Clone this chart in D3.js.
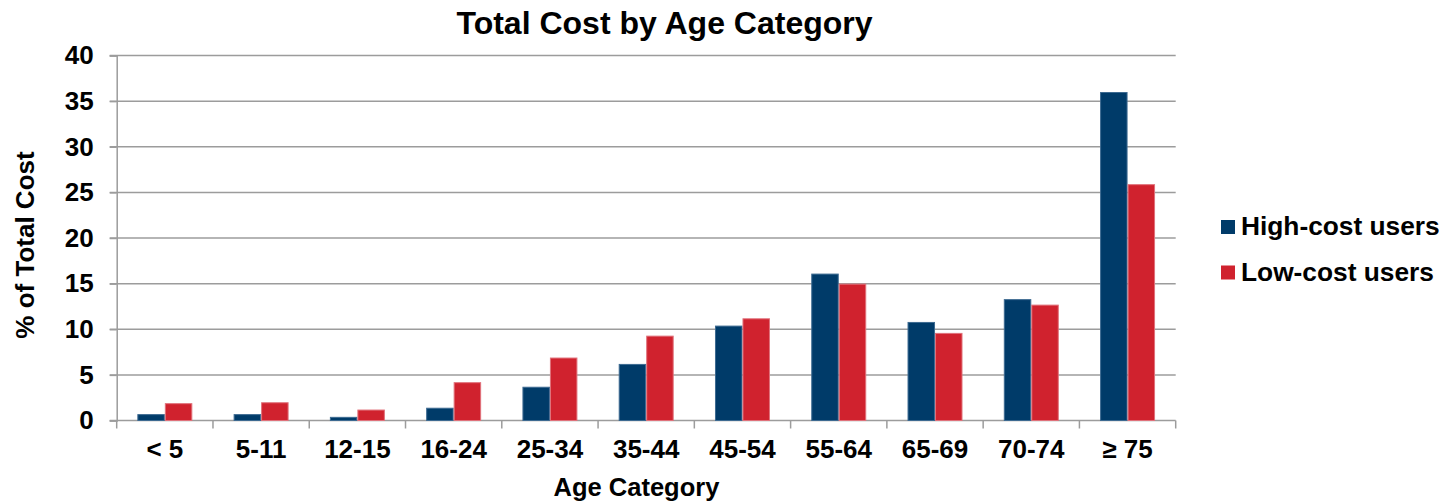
<!DOCTYPE html>
<html>
<head>
<meta charset="utf-8">
<script src="https://cdn.jsdelivr.net/npm/d3@7"></script>
<style>
  html, body { margin: 0; padding: 0; background: #fff; }
  svg { display: block; font-family: "Liberation Sans", Arial, sans-serif; font-weight: bold; }
</style>
</head>
<body>
<svg id="chart" width="1445" height="503"></svg>
<script>
// Age groups along the x axis
const categories = ["< 5", "5-11", "12-15", "16-24", "25-34", "35-44", "45-54", "55-64", "65-69", "70-74", "\u2265 75"];
// Share of total cost (%) per age group
const highCost = [0.7, 0.7, 0.4, 1.4, 3.7, 6.2, 10.4, 16.1, 10.8, 13.3, 36.0];
const lowCost  = [1.9, 2.0, 1.2, 4.2, 6.9, 9.3, 11.2, 15.0, 9.6, 12.7, 25.9];
const seriesNames = ["High-cost users", "Low-cost users"];
const seriesColors = ["#003B69", "#D0222E"];
const seriesEdges = ["#3d6a91", "#e0717a"];
const yTicks = [0, 5, 10, 15, 20, 25, 30, 35, 40];

const svg = d3.select("#chart");
const plotLeft = 116.7, plotRight = 1175.7, plotTop = 55.5, plotBottom = 420.5;
const gridColor = "#9c9c9c";

const x0 = d3.scaleBand().domain(categories).range([plotLeft, plotRight])
  .paddingInner(0.429).paddingOuter(0.2145);
const x1 = d3.scaleBand().domain(seriesNames).range([0, x0.bandwidth()]);
const y = d3.scaleLinear().domain([0, 40]).range([plotBottom, plotTop]);

// horizontal gridlines
svg.append("g").selectAll("line").data(yTicks).join("line")
  .attr("x1", plotLeft - 7).attr("x2", plotRight)
  .attr("y1", d => y(d)).attr("y2", d => y(d))
  .attr("stroke", gridColor).attr("stroke-width", 1.5);

// y axis
const yAxis = svg.append("g").attr("transform", `translate(${plotLeft},0)`)
  .call(d3.axisLeft(y).tickValues(yTicks).tickSize(7).tickPadding(16));
yAxis.select(".domain").attr("stroke", gridColor).attr("stroke-width", 1.5);
yAxis.selectAll(".tick line").attr("stroke", gridColor).attr("stroke-width", 1.5);
yAxis.selectAll("text").attr("font-size", 26).attr("font-weight", "bold")
  .attr("font-family", "Liberation Sans, Arial, sans-serif").attr("fill", "#000");

// x axis: ticks on category boundaries
const boundaries = d3.range(categories.length + 1).map(i => plotLeft + i * x0.step());
svg.append("g").selectAll("line").data(boundaries).join("line")
  .attr("x1", d => d).attr("x2", d => d)
  .attr("y1", plotBottom).attr("y2", plotBottom + 8)
  .attr("stroke", gridColor).attr("stroke-width", 1.5);
const xAxis = svg.append("g").attr("transform", `translate(0,${plotBottom})`)
  .call(d3.axisBottom(x0).tickSize(0).tickPadding(19));
xAxis.select(".domain").remove();
xAxis.selectAll("text").attr("font-size", 26).attr("font-weight", "bold")
  .attr("font-family", "Liberation Sans, Arial, sans-serif").attr("fill", "#000");

// bars
const rows = categories.map((c, i) => ({ cat: c, vals: [highCost[i], lowCost[i]] }));
svg.append("g").selectAll("g").data(rows).join("g")
  .attr("transform", d => `translate(${x0(d.cat)},0)`)
  .selectAll("rect").data(d => d.vals.map((v, j) => ({ name: seriesNames[j], v, j })))
  .join("rect")
  .attr("x", d => x1(d.name) + 0.5)
  .attr("width", x1.bandwidth() - 1)
  .attr("y", d => y(d.v) + 0.5)
  .attr("height", d => Math.max(0, y(0) - y(d.v) - 0.5))
  .attr("fill", d => seriesColors[d.j])
  .attr("stroke", d => seriesEdges[d.j])
  .attr("stroke-width", 1);

// title
svg.append("text").attr("x", 664.5).attr("y", 34).attr("text-anchor", "middle")
  .attr("font-size", 32).text("Total Cost by Age Category");

// axis titles
svg.append("text").attr("x", 636.5).attr("y", 496).attr("text-anchor", "middle")
  .attr("font-size", 25.5).text("Age Category");
svg.append("text").attr("transform", "translate(34,245) rotate(-90)")
  .attr("text-anchor", "middle").attr("font-size", 26).text("% of Total Cost");

// legend
const legend = svg.append("g").selectAll("g").data(seriesNames).join("g")
  .attr("transform", (d, i) => `translate(1221,${220 + i * 45.5})`);
legend.append("rect").attr("width", 14).attr("height", 14)
  .attr("fill", (d, i) => seriesColors[i]);
legend.append("text").attr("x", 20).attr("y", 15).attr("font-size", 26.3).text(d => d);
</script>
</body>
</html>
